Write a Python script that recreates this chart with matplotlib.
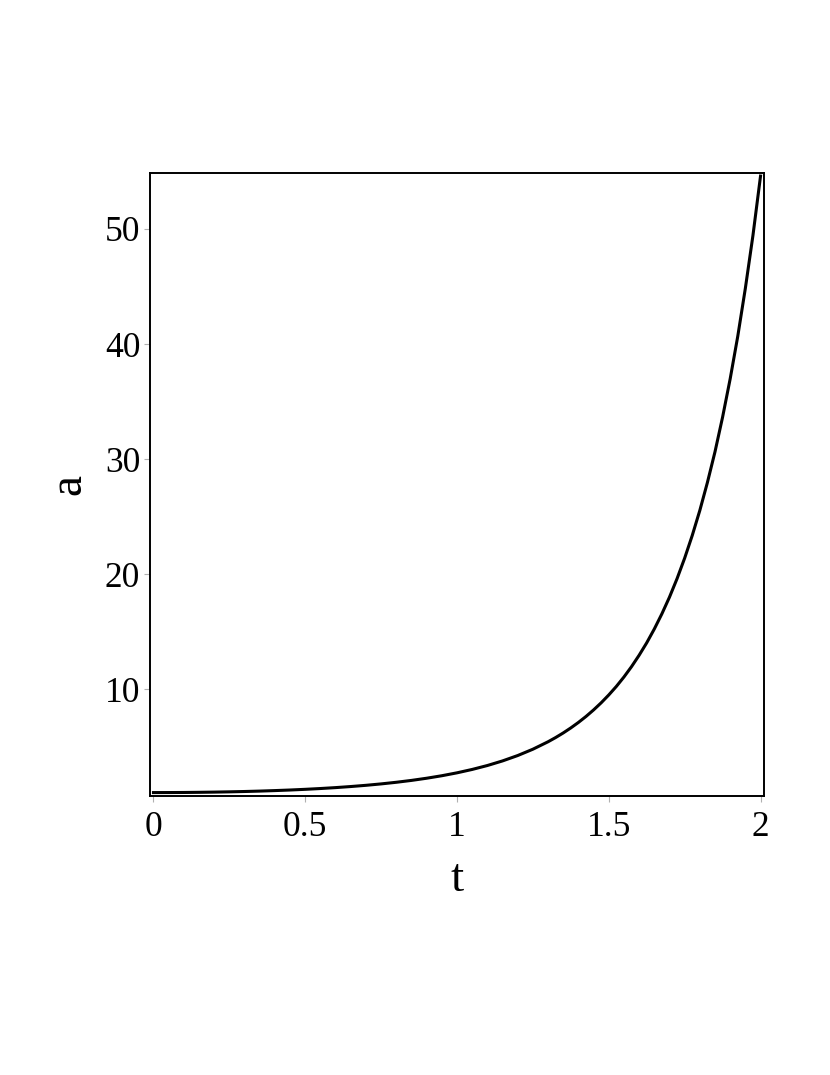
import matplotlib

matplotlib.use("Agg")
import matplotlib.pyplot as plt

# values (denser where it bends up steeply)
t_vals = [0.0, 0.05, 0.1, 0.15, 0.2, 0.25, 0.3, 0.35, 0.4, 0.45, 0.5,
          0.55, 0.6, 0.65, 0.7, 0.75, 0.8, 0.85, 0.9, 0.95, 1.0,
          1.05, 1.1, 1.15, 1.2, 1.25, 1.3, 1.325, 1.35, 1.375, 1.4, 1.425, 1.45, 1.475, 1.5,
          1.525, 1.55, 1.575, 1.6, 1.625, 1.65, 1.675, 1.7, 1.725, 1.75,
          1.775, 1.8, 1.825, 1.85, 1.875, 1.9, 1.925, 1.95, 1.975, 2.0]
a_vals = [1.00, 1.003, 1.01, 1.023, 1.041, 1.065, 1.094, 1.130, 1.174, 1.224, 1.284,
          1.353, 1.433, 1.526, 1.632, 1.755, 1.896, 2.059, 2.248, 2.465, 2.718,
          3.012, 3.353, 3.753, 4.221, 4.771, 5.419, 5.786, 6.186, 6.623, 7.099, 7.618, 8.187, 8.807, 9.488,
          10.23, 11.05, 11.95, 12.94, 14.02, 15.22, 16.54, 17.99, 19.60, 21.38,
          23.35, 25.53, 27.96, 30.63, 33.64, 36.97, 40.67, 44.84, 49.43, 54.60]

x_ticks = [0, 0.5, 1, 1.5, 2]
x_labels = ["0", "0.5", "1", "1.5", "2"]
y_ticks = [10, 20, 30, 40, 50]

plt.rcParams["font.family"] = ["Liberation Serif", "DejaVu Serif"]

fig = plt.figure(figsize=(8.3, 10.75), dpi=100)
ax = fig.add_axes([0.1807, 0.2595, 0.7398, 0.5796])

ax.plot(t_vals, a_vals, color="black", linewidth=2.2, solid_joinstyle="round")

ax.set_xlim(-0.0115, 2.0115)
ax.set_ylim(0.7, 54.87)
ax.set_xticks(x_ticks)
ax.set_xticklabels(x_labels)
ax.set_yticks(y_ticks)
ax.tick_params(direction="out", length=4, width=0.8, color="#b0b0b0",
               labelsize=25.5, pad=3)
ax.tick_params(axis="x", pad=6.5)

for sp in ax.spines.values():
    sp.set_linewidth(1.4)
    sp.set_color("black")

ax.set_xlabel("t", fontsize=34, labelpad=11)
ax.set_ylabel("a", fontsize=34, labelpad=10)

fig.savefig("out.png", dpi=100)
